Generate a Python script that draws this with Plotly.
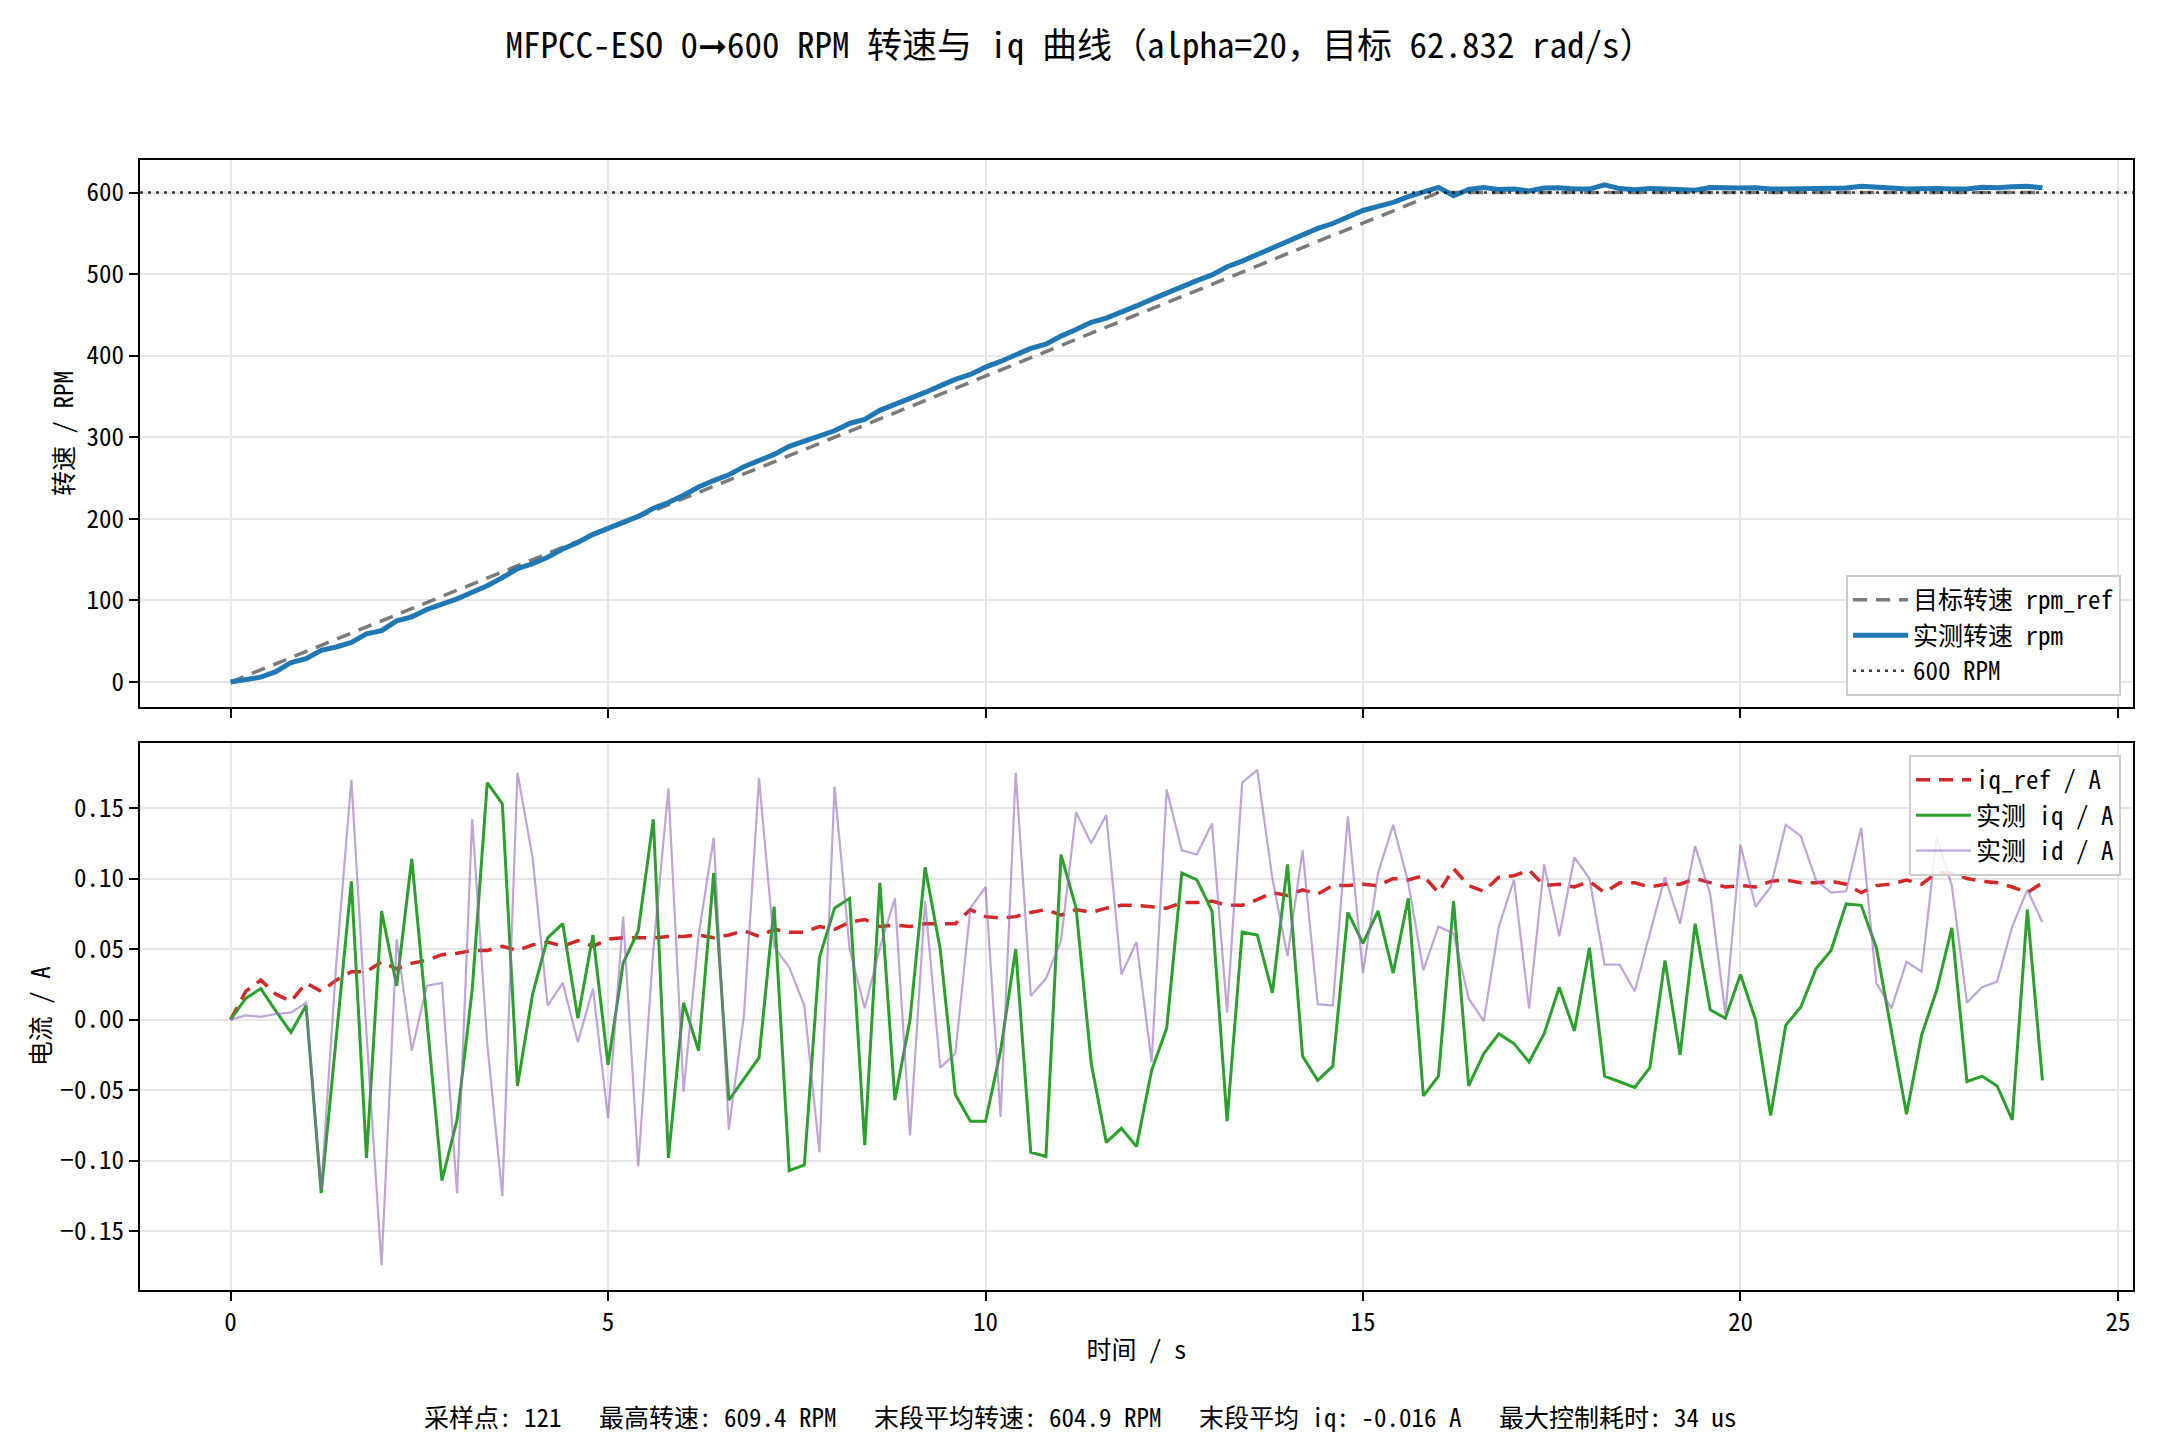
import plotly.graph_objects as go

# ---------------- data ----------------
t = [0.0, 0.2, 0.4, 0.6, 0.8, 1.0, 1.2, 1.4, 1.6, 1.8, 2.0, 2.2, 2.4, 2.6, 2.8, 3.0, 3.2, 3.4, 3.6, 3.8,
     4.0, 4.2, 4.4, 4.6, 4.8, 5.0, 5.2, 5.4, 5.6, 5.8, 6.0, 6.2, 6.4, 6.6, 6.8, 7.0, 7.2, 7.4, 7.6, 7.8,
     8.0, 8.2, 8.4, 8.6, 8.8, 9.0, 9.2, 9.4, 9.6, 9.8, 10.0, 10.2, 10.4, 10.6, 10.8, 11.0, 11.2, 11.4, 11.6, 11.8,
     12.0, 12.2, 12.4, 12.6, 12.8, 13.0, 13.2, 13.4, 13.6, 13.8, 14.0, 14.2, 14.4, 14.6, 14.8, 15.0, 15.2, 15.4, 15.6, 15.8,
     16.0, 16.2, 16.4, 16.6, 16.8, 17.0, 17.2, 17.4, 17.6, 17.8, 18.0, 18.2, 18.4, 18.6, 18.8, 19.0, 19.2, 19.4, 19.6, 19.8,
     20.0, 20.2, 20.4, 20.6, 20.8, 21.0, 21.2, 21.4, 21.6, 21.8, 22.0, 22.2, 22.4, 22.6, 22.8, 23.0, 23.2, 23.4, 23.6, 23.8,
     24.0]

rpm_ref = [0.0, 7.5, 15.0, 22.5, 30.0, 37.5, 45.0, 52.5, 60.0, 67.5, 75.0, 82.5, 90.0, 97.5, 105.0, 112.5, 120.0, 127.5, 135.0, 142.5,
           150.0, 157.5, 165.0, 172.5, 180.0, 187.5, 195.0, 202.5, 210.0, 217.5, 225.0, 232.5, 240.0, 247.5, 255.0, 262.5, 270.0, 277.5, 285.0, 292.5,
           300.0, 307.5, 315.0, 322.5, 330.0, 337.5, 345.0, 352.5, 360.0, 367.5, 375.0, 382.5, 390.0, 397.5, 405.0, 412.5, 420.0, 427.5, 435.0, 442.5,
           450.0, 457.5, 465.0, 472.5, 480.0, 487.5, 495.0, 502.5, 510.0, 517.5, 525.0, 532.5, 540.0, 547.5, 555.0, 562.5, 570.0, 577.5, 585.0, 592.5,
           600.0, 600.0, 600.0, 600.0, 600.0, 600.0, 600.0, 600.0, 600.0, 600.0, 600.0, 600.0, 600.0, 600.0, 600.0, 600.0, 600.0, 600.0, 600.0, 600.0,
           600.0, 600.0, 600.0, 600.0, 600.0, 600.0, 600.0, 600.0, 600.0, 600.0, 600.0, 600.0, 600.0, 600.0, 600.0, 600.0, 600.0, 600.0, 600.0, 600.0,
           600.0]

rpm = [0.0, 2.4, 6.0, 12.7, 24.0, 28.6, 39.0, 43.0, 48.6, 59.0, 63.0, 75.0, 80.0, 89.0, 95.0, 102.0, 110.0, 118.0, 128.0, 139.0,
       145.0, 153.0, 163.0, 171.0, 181.0, 188.5, 196.0, 203.0, 213.0, 220.0, 229.0, 239.0, 247.0, 254.0, 264.0, 272.0, 279.0, 289.0, 295.0, 301.0,
       308.0, 317.0, 322.0, 333.0, 340.0, 348.0, 355.0, 363.0, 371.0, 377.0, 386.0, 393.0, 401.0, 409.0, 414.0, 424.0, 432.0, 441.0, 446.0, 453.0,
       461.0, 469.0, 477.0, 484.0, 492.0, 499.0, 509.0, 516.0, 524.0, 532.0, 541.0, 548.0, 556.0, 562.0, 570.0, 578.0, 583.0, 588.0, 595.0, 600.0,
       606.3, 596.0, 603.8, 606.0, 603.8, 604.2, 602.0, 605.5, 605.8, 604.4, 604.2, 609.4, 604.8, 603.4, 604.8, 604.2, 604.2, 602.8, 606.2, 605.5,
       605.5, 605.8, 604.2, 604.2, 604.4, 604.8, 604.4, 605.5, 607.6, 605.8, 605.5, 604.4, 605.0, 605.0, 604.4, 604.2, 606.5, 605.8, 607.0, 607.6,
       605.8]

iq_ref = [0.000, 0.020, 0.028, 0.018, 0.013, 0.026, 0.020, 0.028, 0.034, 0.034, 0.041, 0.036, 0.040, 0.042, 0.046, 0.047, 0.049, 0.049, 0.052, 0.049,
          0.053, 0.055, 0.052, 0.056, 0.052, 0.057, 0.058, 0.058, 0.058, 0.059, 0.059, 0.060, 0.058, 0.060, 0.063, 0.059, 0.064, 0.062, 0.062, 0.066,
          0.064, 0.069, 0.071, 0.066, 0.067, 0.066, 0.068, 0.068, 0.068, 0.078, 0.073, 0.072, 0.073, 0.076, 0.078, 0.074, 0.078, 0.076, 0.079, 0.081,
          0.081, 0.080, 0.079, 0.083, 0.083, 0.084, 0.081, 0.081, 0.085, 0.090, 0.088, 0.092, 0.089, 0.095, 0.095, 0.096, 0.095, 0.100, 0.099, 0.102,
          0.090, 0.107, 0.095, 0.091, 0.101, 0.102, 0.106, 0.095, 0.096, 0.094, 0.098, 0.090, 0.097, 0.097, 0.094, 0.096, 0.096, 0.100, 0.097, 0.094,
          0.095, 0.094, 0.098, 0.099, 0.097, 0.097, 0.098, 0.096, 0.090, 0.095, 0.096, 0.099, 0.096, 0.104, 0.104, 0.100, 0.098, 0.097, 0.094, 0.090,
          0.097]

iq = [0.000, 0.015, 0.022, 0.006, -0.009, 0.010, -0.123, -0.010, 0.098, -0.098, 0.077, 0.024, 0.114, 0.000, -0.114, -0.071, 0.021, 0.168, 0.153, -0.047,
      0.018, 0.058, 0.068, 0.001, 0.060, -0.032, 0.040, 0.063, 0.142, -0.098, 0.012, -0.022, 0.104, -0.057, -0.042, -0.027, 0.080, -0.107, -0.103, 0.044,
      0.079, 0.086, -0.089, 0.097, -0.057, 0.000, 0.108, 0.050, -0.053, -0.072, -0.072, -0.022, 0.050, -0.094, -0.097, 0.117, 0.079, -0.031, -0.087, -0.077,
      -0.090, -0.036, -0.006, 0.104, 0.099, 0.077, -0.072, 0.062, 0.060, 0.019, 0.110, -0.026, -0.043, -0.033, 0.076, 0.054, 0.077, 0.033, 0.086, -0.054,
      -0.040, 0.084, -0.047, -0.024, -0.010, -0.017, -0.030, -0.010, 0.023, -0.008, 0.051, -0.040, -0.044, -0.048, -0.034, 0.042, -0.025, 0.068, 0.007, 0.001,
      0.032, 0.000, -0.068, -0.004, 0.009, 0.036, 0.049, 0.082, 0.081, 0.051, -0.008, -0.067, -0.011, 0.021, 0.065, -0.044, -0.040, -0.047, -0.071, 0.078,
      -0.043]

id_ = [0.000, 0.003, 0.002, 0.004, 0.005, 0.012, -0.120, 0.040, 0.170, -0.010, -0.174, 0.057, -0.022, 0.024, 0.026, -0.123, 0.142, -0.017, -0.125, 0.175,
       0.115, 0.010, 0.026, -0.016, 0.022, -0.070, 0.073, -0.104, 0.050, 0.164, -0.051, 0.060, 0.129, -0.078, 0.003, 0.171, 0.052, 0.037, 0.010, -0.094,
       0.165, 0.050, 0.008, 0.051, 0.086, -0.082, 0.084, -0.034, -0.024, 0.079, 0.094, -0.069, 0.175, 0.017, 0.029, 0.056, 0.147, 0.125, 0.145, 0.032,
       0.055, -0.030, 0.163, 0.120, 0.117, 0.139, 0.005, 0.168, 0.177, 0.100, 0.045, 0.120, 0.011, 0.010, 0.144, 0.033, 0.104, 0.138, 0.097, 0.035,
       0.066, 0.061, 0.015, -0.001, 0.066, 0.099, 0.008, 0.110, 0.059, 0.115, 0.100, 0.039, 0.039, 0.020, 0.061, 0.101, 0.068, 0.123, 0.089, 0.004,
       0.124, 0.080, 0.094, 0.138, 0.130, 0.099, 0.090, 0.091, 0.136, 0.026, 0.008, 0.041, 0.034, 0.129, 0.095, 0.012, 0.023, 0.027, 0.066, 0.092,
       0.069]

target_rpm = 600
x_ticks = [0, 5, 10, 15, 20, 25]
rpm_ticks = [0, 100, 200, 300, 400, 500, 600]
cur_ticks = [-0.15, -0.10, -0.05, 0.00, 0.05, 0.10, 0.15]

title_text = "MFPCC-ESO 0➞600 RPM 转速与 iq 曲线（alpha=20，目标 62.832 rad/s）"
footer_text = ("采样点: 121   最高转速: 609.4 RPM   末段平均转速: 604.9 RPM   "
               "末段平均 iq: -0.016 A   最大控制耗时: 34 us")

# ---------------- style ----------------
FONT = "Noto Sans Mono CJK SC, Noto Sans CJK SC, sans-serif"
GRID = "#e6e6e6"

fig = go.Figure()

fig.add_trace(go.Scatter(x=t, y=rpm_ref, mode="lines", name="目标转速 rpm_ref",
                         line=dict(color="#7a7a7a", width=3.5, dash="14px,9px"),
                         xaxis="x", yaxis="y", legend="legend"))
fig.add_trace(go.Scatter(x=t, y=rpm, mode="lines", name="实测转速 rpm",
                         line=dict(color="#1f77b4", width=5),
                         xaxis="x", yaxis="y", legend="legend"))
fig.add_trace(go.Scatter(x=[None], y=[None], mode="lines", name="600 RPM",
                         line=dict(color="rgba(0,0,0,0.75)", width=2.5, dash="3px,5px"),
                         xaxis="x", yaxis="y", legend="legend"))

fig.add_trace(go.Scatter(x=t, y=iq_ref, mode="lines", name="iq_ref / A",
                         line=dict(color="#d62728", width=3.5, dash="14px,9px"),
                         xaxis="x2", yaxis="y2", legend="legend2"))
fig.add_trace(go.Scatter(x=t, y=iq, mode="lines", name="实测 iq / A",
                         line=dict(color="#2ca02c", width=3),
                         xaxis="x2", yaxis="y2", legend="legend2"))
fig.add_trace(go.Scatter(x=t, y=id_, mode="lines", name="实测 id / A",
                         line=dict(color="rgba(148,103,189,0.6)", width=2.2),
                         xaxis="x2", yaxis="y2", legend="legend2"))

# 600 RPM horizontal line across the axes
fig.add_shape(type="line", xref="x domain", yref="y", x0=0, x1=1,
              y0=target_rpm, y1=target_rpm,
              line=dict(color="rgba(0,0,0,0.75)", width=2.5, dash="3px,5px"))

axis_common = dict(showline=True, linecolor="black", linewidth=2, mirror=True,
                   ticks="outside", ticklen=9, tickwidth=2, tickcolor="black",
                   showgrid=True, gridcolor=GRID, gridwidth=2, zeroline=False,
                   tickfont=dict(family=FONT, size=25, color="black"))

fig.update_layout(
    width=2160, height=1440,
    paper_bgcolor="white", plot_bgcolor="white",
    margin=dict(l=140, r=27, t=160, b=150),
    font=dict(family=FONT, size=25, color="black"),
    title=dict(text=title_text, x=0.5, xref="container", xanchor="center",
               y=1 - 46 / 1440, yref="container", yanchor="middle",
               font=dict(family=FONT, size=35, color="black")),
    xaxis=dict(domain=[0, 1], anchor="y", range=[-1.2, 25.2], tickvals=x_ticks,
               showticklabels=False, matches="x2", **axis_common),
    yaxis=dict(domain=[0.516, 1.0], anchor="x", range=[-30.47, 639.87], tickvals=rpm_ticks,
               title=dict(text="转速 / RPM", standoff=6, font=dict(family=FONT, size=25)),
               **axis_common),
    xaxis2=dict(domain=[0, 1], anchor="y2", range=[-1.2, 25.2], tickvals=x_ticks,
                title=dict(text="时间 / s", standoff=4, font=dict(family=FONT, size=25)),
                **axis_common),
    yaxis2=dict(domain=[0.0, 0.4845], anchor="x2", range=[-0.1916, 0.1964], tickvals=cur_ticks,
                tickformat=".2f",
                title=dict(text="电流 / A", standoff=2, font=dict(family=FONT, size=25)),
                **axis_common),
    legend=dict(x=0.994, y=0.5257, xanchor="right", yanchor="bottom",
                bgcolor="rgba(255,255,255,0.85)", bordercolor="#cccccc", borderwidth=2,
                font=dict(family=FONT, size=25), itemwidth=55, tracegroupgap=0),
    legend2=dict(x=0.994, y=0.4735, xanchor="right", yanchor="top",
                 bgcolor="rgba(255,255,255,0.85)", bordercolor="#cccccc", borderwidth=2,
                 font=dict(family=FONT, size=25), itemwidth=55, tracegroupgap=0),
    showlegend=True,
)

fig.add_annotation(text=footer_text, xref="paper", yref="paper",
                   x=(1080 - 140) / 1993, y=(1290 - 1416) / 1130,
                   xanchor="center", yanchor="middle", showarrow=False,
                   font=dict(family=FONT, size=25, color="black"))

fig.write_html("out.html")
